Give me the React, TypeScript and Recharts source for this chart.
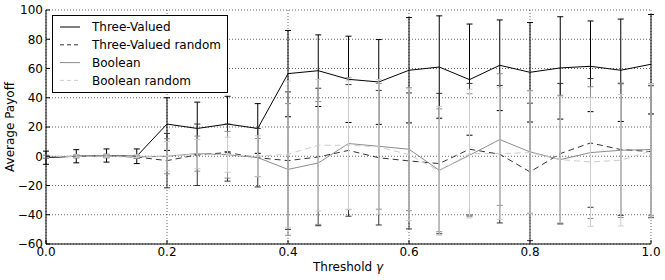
import React from 'react';
import { LineChart, Line, XAxis, YAxis, CartesianGrid, ErrorBar } from 'recharts';

const thresholds = [0, 0.05, 0.1, 0.15, 0.2, 0.25, 0.3, 0.35, 0.4, 0.45, 0.5, 0.55, 0.6, 0.65, 0.7, 0.75, 0.8, 0.85, 0.9, 0.95, 1.0];

const threeValued = [-1, 0, 0.5, 0, 22, 19, 22, 19, 56.5, 58.5, 52.6, 50.8, 58.8, 61, 52.4, 62.2, 57.4, 60.4, 61.5, 58.8, 62.9];
const threeValuedErr = [4.5, 4.5, 4.5, 5, 18, 18, 19, 17, 29.5, 24.5, 29.5, 29, 36, 35, 38, 31, 34, 35, 31, 35, 34];

const threeValuedRandom = [-0.5, 0, 0, -0.5, -3, 1, 2.5, -1, -3, -0.5, 4, -1, -3.2, -5, 4.8, 1.4, -10.7, 1.8, 9.1, 4.6, 3.2];
const threeValuedRandomErr = [1, 1, 1, 1, 18.6, 21, 19.5, 20, 47, 47, 45, 46, 46.5, 48, 45, 47, 47, 48, 44, 45, 45];

const booleanVals = [-0.5, 0, 0.5, -0.5, 0, 1.8, 1, -0.9, -9, -4.6, 8.7, 6.8, 4.8, -9.6, 0.7, 11.4, 3, -2.3, 2.5, 4.1, 4.6];
const booleanErr = [1, 1, 1, 1, 12, 12, 16, 13, 45, 42, 45, 43, 42, 42, 42, 45, 42, 44, 45, 46, 45];

const booleanRandom = [0, 0, 0, 0, 0, 1.5, 1, 0, 1.4, 7.5, 7.5, 6.4, 1.1, -10, 1.8, 1.8, 2.5, -2.3, -3.9, -2.7, 3.6];
const booleanRandomErr = [1, 1, 1, 1, 10, 10, 12, 14, 50, 45, 44, 46, 45, 44, 44, 45, 42, 43, 44, 45, 46];

const xTicks = [0, 0.2, 0.4, 0.6, 0.8, 1.0];
const yTicks = [-60, -40, -20, 0, 20, 40, 60, 80, 100];

const seriesNames = ['Three-Valued', 'Three-Valued random', 'Boolean', 'Boolean random'];
const seriesColors = ['#000000', '#333333', '#8c8c8c', '#cccccc'];
const seriesDash = [undefined, '6 4', undefined, '6 4'];

const data = thresholds.map((t, i) => ({
  t,
  tv: threeValued[i],
  tvErr: threeValuedErr[i],
  tvr: threeValuedRandom[i],
  tvrErr: threeValuedRandomErr[i],
  b: booleanVals[i],
  bErr: booleanErr[i],
  br: booleanRandom[i],
  brErr: booleanRandomErr[i],
}));

const keys = [
  ['tv', 'tvErr'],
  ['tvr', 'tvrErr'],
  ['b', 'bErr'],
  ['br', 'brErr'],
];

const FONT = '"DejaVu Sans", sans-serif';

export default function App() {
  return (
    <div style={{ position: 'absolute', left: 0, top: 0, width: 665, height: 280, background: '#fff', fontFamily: FONT }}>
      <LineChart width={665} height={280} data={data} margin={{ top: 10, right: 14, bottom: 0, left: 0 }}>
        <CartesianGrid xAxisId="main" yAxisId="main" stroke="#000" strokeDasharray="1 2" strokeWidth={0.6} />
        <XAxis
          xAxisId="main"
          dataKey="t"
          type="number"
          domain={[0, 1]}
          ticks={xTicks}
          tickFormatter={(v: number) => v.toFixed(1)}
          height={36}
          tickSize={-4}
          tickMargin={7}
          stroke="#000"
          tick={{ fill: '#000', fontSize: 12, fontFamily: FONT }}
          axisLine={{ stroke: '#000' }}
          tickLine={{ stroke: '#000' }}
        />
        <XAxis
          xAxisId="top"
          orientation="top"
          dataKey="t"
          type="number"
          domain={[0, 1]}
          ticks={xTicks}
          height={0}
          tickSize={-4}
          tick={false}
          axisLine={{ stroke: '#000' }}
          tickLine={{ stroke: '#000' }}
        />
        <YAxis
          yAxisId="main"
          type="number"
          domain={[-60, 100]}
          ticks={yTicks}
          width={46}
          tickSize={-4}
          tickMargin={7}
          tickFormatter={(v: number) => String(v).replace('-', '\u2212')}
          tick={{ fill: '#000', fontSize: 12, fontFamily: FONT }}
          axisLine={{ stroke: '#000' }}
          tickLine={{ stroke: '#000' }}
        />
        <YAxis
          yAxisId="right"
          orientation="right"
          type="number"
          domain={[-60, 100]}
          ticks={yTicks}
          width={0}
          tickSize={-4}
          tick={false}
          axisLine={{ stroke: '#000' }}
          tickLine={{ stroke: '#000' }}
        />
        {keys.map(([k, e], i) => (
          <Line
            key={k}
            xAxisId="main"
            yAxisId="main"
            dataKey={k}
            name={seriesNames[i]}
            stroke={seriesColors[i]}
            strokeDasharray={seriesDash[i]}
            strokeWidth={1}
            dot={false}
            isAnimationActive={false}
          >
            <ErrorBar dataKey={e} width={3} stroke={seriesColors[i]} strokeWidth={1} direction="y" />
          </Line>
        ))}
      </LineChart>
      <svg width={665} height={280} style={{ position: 'absolute', left: 0, top: 0, pointerEvents: 'none' }}>
        <text
          x={0}
          y={0}
          transform="translate(14,127) rotate(-90)"
          textAnchor="middle"
          fontSize={12}
          fontFamily={FONT}
          fill="#000"
        >
          Average Payoff
        </text>
        <text x={348} y={271} textAnchor="middle" fontSize={12} fontFamily={FONT} fill="#000">
          Threshold <tspan fontStyle="italic">γ</tspan>
        </text>
        <rect x={52.5} y={15.5} width={175} height={77} fill="#fff" stroke="#000" strokeWidth={1} />
        {seriesNames.map((n, i) => {
          const y = 27 + i * 17.8;
          return (
            <g key={n}>
              <line x1={60} x2={80} y1={y} y2={y} stroke={seriesColors[i]} strokeWidth={1} strokeDasharray={seriesDash[i] ? '4 3' : undefined} />
              <text x={92} y={y + 4.3} fontSize={12} fontFamily={FONT} fill="#000">
                {n}
              </text>
            </g>
          );
        })}
      </svg>
    </div>
  );
}
